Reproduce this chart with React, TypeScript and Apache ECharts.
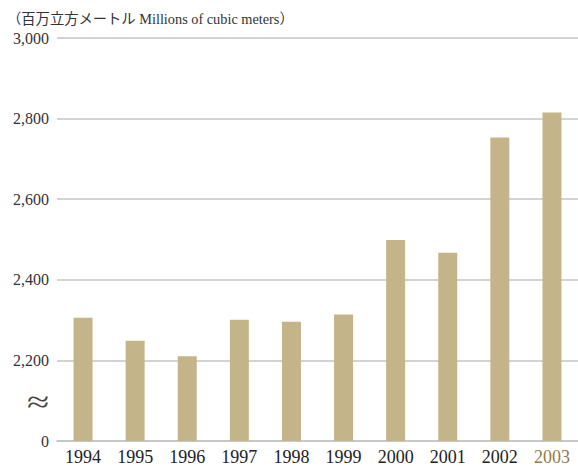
import React, { useEffect, useRef } from "react";
import * as echarts from "echarts";

const years = ["1994", "1995", "1996", "1997", "1998", "1999", "2000", "2001", "2002", "2003"];
const volumes = [2306, 2249, 2210, 2301, 2296, 2314, 2499, 2467, 2753, 2815];
const yMin = 2000;
const yMax = 3000;
const yStep = 200;
const titleText = "（百万立方メートル Millions of cubic meters）";

const FONT = "'Liberation Serif', 'Noto Sans CJK JP', serif";

export default function App() {
  const ref = useRef<HTMLDivElement>(null);
  useEffect(() => {
    if (!ref.current) return;
    const chart = echarts.init(ref.current, null, { renderer: "svg" });
    chart.setOption({
      animation: false,
      backgroundColor: "#ffffff",
      textStyle: { fontFamily: FONT },
      grid: { left: 57, right: -5, top: 38, bottom: 23, containLabel: false },
      title: {
        text: titleText,
        left: 2,
        top: 7,
        textStyle: { fontFamily: FONT, fontSize: 14.3, fontWeight: "normal", color: "#333" },
      },
      xAxis: {
        type: "category",
        data: years,
        axisLine: { show: true, lineStyle: { color: "#c4c4c4", width: 1.5 } },
        axisTick: { show: false },
        axisLabel: {
          margin: 7,
          fontFamily: FONT,
          fontSize: 18,
          color: (v: string) => (v === "2003" ? "#927c45" : "#222"),
        },
      },
      yAxis: {
        type: "value",
        min: yMin,
        max: yMax,
        interval: yStep,
        axisLine: { show: false },
        axisTick: { show: false },
        splitLine: { lineStyle: { color: "#c4c4c4", width: 1.5 } },
        axisLabel: {
          margin: 8,
          fontFamily: FONT,
          fontSize: 16,
          color: "#333",
          formatter: (v: number) => (v === yMin ? "0" : v.toLocaleString("en-US")),
        },
      },
      series: [
        {
          type: "bar",
          data: volumes,
          barWidth: 19,
          itemStyle: { color: "#c4b48a" },
        },
      ],
    });
    const py = chart.convertToPixel({ yAxisIndex: 0 }, (yMin + yMin + yStep) / 2) as number;
    chart.setOption({
      graphic: [
        {
          type: "text",
          x: 38,
          y: py + 1,
          scaleX: 1.35,
          style: {
            text: "≈",
            font: `30px 'Liberation Serif', serif`,
            fill: "#444",
            textAlign: "center",
            textVerticalAlign: "middle",
          },
        },
      ],
    });
    return () => chart.dispose();
  }, []);
  return (
    <div
      ref={ref}
      style={{ position: "fixed", left: 0, top: 0, width: 578, height: 466 }}
    />
  );
}
